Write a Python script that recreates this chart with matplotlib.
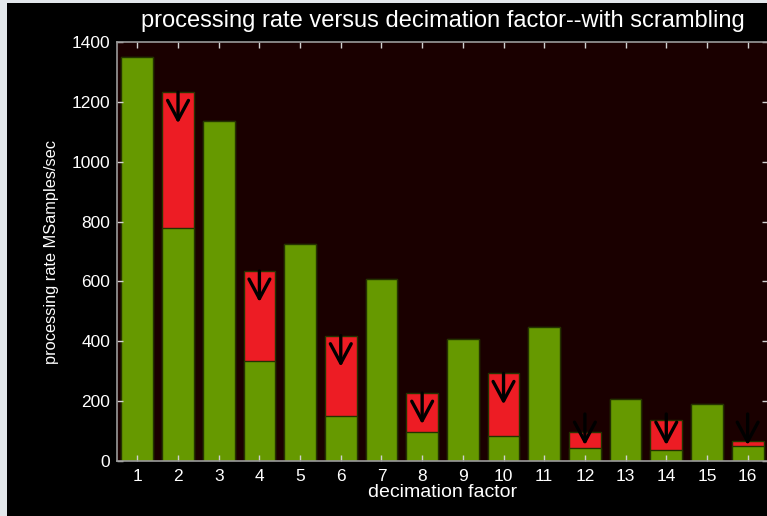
import numpy as np
import matplotlib.pyplot as plt
from matplotlib.patches import Rectangle

# --- processing rate data (MSamples/sec) ---
factors = np.arange(1, 17)
rate_no_scramble = [1350, 1232, 1136, 635, 724, 419, 609, 227, 408, 293, 447, 97, 207, 138, 189, 67]
rate_scramble = [1350, 778, 1136, 334, 724, 150, 609, 98, 408, 82, 447, 43, 207, 38, 189, 49]
slowed = [2, 4, 6, 8, 10, 12, 14, 16]   # factors where scrambling costs throughput

GREEN = '#669900'
RED = '#ED1C24'
EDGE = '#243300'

plt.rcParams['font.family'] = ['Liberation Sans', 'DejaVu Sans']

fig = plt.figure(figsize=(7.67, 5.16), dpi=100, facecolor='black')
# light frame strip along the left and top edge
for rect in [(0, 0, 7 / 767, 1), (0, 1 - 3 / 516, 1, 3 / 516)]:
    fig.patches.append(Rectangle(rect[:2], rect[2], rect[3], transform=fig.transFigure,
                                 facecolor='#e3e7eb', edgecolor='none', zorder=-10))

ax = fig.add_axes([117 / 767, 55 / 516, 651 / 767, 419 / 516])
ax.set_facecolor('#1a0000')

# red = without scrambling, green drawn over it = with scrambling
ax.bar(factors, rate_no_scramble, width=0.78, color=RED, edgecolor=EDGE, linewidth=1)
ax.bar(factors, rate_scramble, width=0.78, color=GREEN, edgecolor=EDGE, linewidth=1)

# drop arrows on the bars that lose throughput
for f in slowed:
    top = max(rate_no_scramble[f - 1], 157)
    ax.annotate('', xy=(f, top - 104), xytext=(f, top),
                arrowprops=dict(arrowstyle='->, head_length=14, head_width=7.5',
                                mutation_scale=1, color='black', lw=2.4,
                                shrinkA=0, shrinkB=0))

ax.set_xlim(0.5, 16.5)
ax.set_ylim(0, 1400)
ax.set_xticks(factors)
ax.set_yticks(np.arange(0, 1401, 200))

ax.tick_params(axis='both', direction='in', length=4, width=1, color='#d0d0d0',
               labelcolor='white', labelsize=12.5, top=True, right=True)
ax.tick_params(axis='x', pad=6)
ax.tick_params(axis='y', pad=5)
for side in ax.spines:
    ax.spines[side].set_color('#9a9a9a')
    ax.spines[side].set_linewidth(1.2)

ax.set_title('processing rate versus decimation factor--with scrambling',
             color='white', fontsize=17, pad=11)
ax.set_xlabel('decimation factor', color='white', fontsize=14, labelpad=0)
ax.set_ylabel('processing rate MSamples/sec', color='white', fontsize=11.8, labelpad=9)

fig.savefig('out.png', dpi=100, facecolor=fig.get_facecolor())
